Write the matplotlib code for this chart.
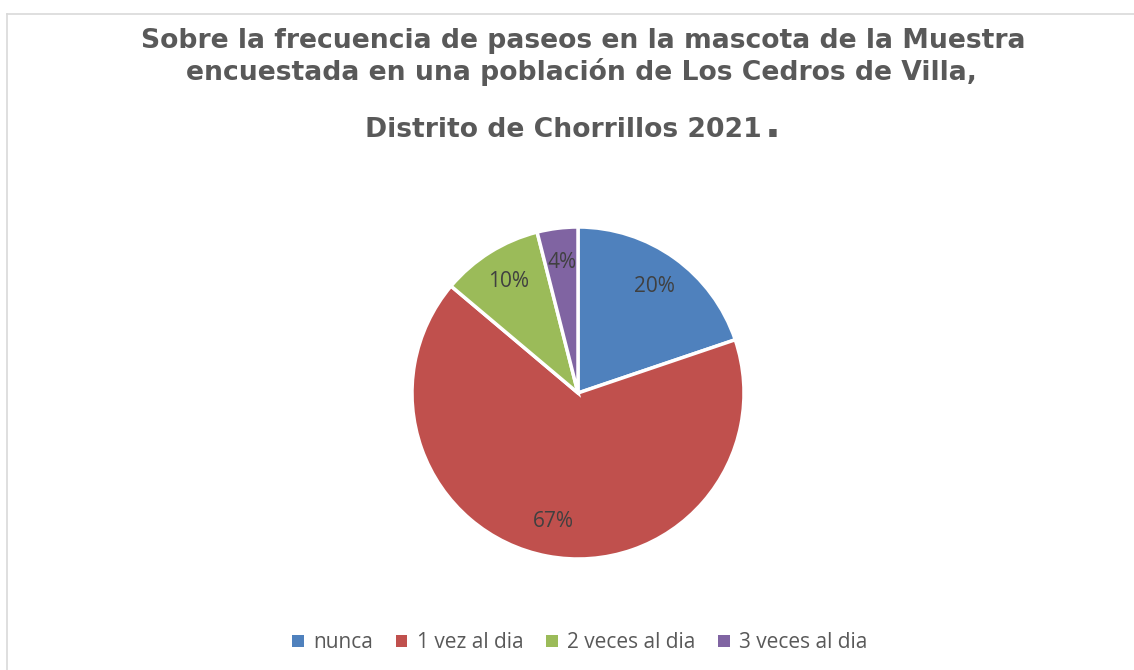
import matplotlib.pyplot as plt
from matplotlib.patches import Patch
from matplotlib.lines import Line2D

categorias = ['nunca', '1 vez al dia', '2 veces al dia', '3 veces al dia']
porcentajes = [20, 67, 10, 4]
colores = ['#4F81BD', '#C0504D', '#9BBB59', '#8064A2']

titulo = ['Sobre la frecuencia de paseos en la mascota de la Muestra',
          'encuestada en una población de Los Cedros de Villa,',
          'Distrito de Chorrillos 2021']

W, H = 1134, 670
fig = plt.figure(figsize=(W / 100, H / 100), dpi=100)

# marco gris del área del gráfico
borde = '#d9d9d9'
fig.add_artist(Line2D([7 / W, 1], [1 - 14 / H, 1 - 14 / H], color=borde, lw=1.2))
fig.add_artist(Line2D([7 / W, 7 / W], [1 - 14 / H, 0], color=borde, lw=1.2))

# título en tres líneas
estilo = dict(fontsize=19.2, fontweight='bold', color='#595959', family='DejaVu Sans')
fig.text(583 / W, 1 - 47.5 / H, titulo[0], ha='center', va='baseline', **estilo)
fig.text(581 / W, 1 - 80.5 / H, titulo[1], ha='center', va='baseline', **estilo)
fig.text(762 / W, 1 - 137 / H, titulo[2], ha='right', va='baseline', **estilo)
fig.text(765 / W, 1 - 137 / H, '.', ha='left', va='baseline',
         fontsize=30, fontweight='bold', color='#595959', family='DejaVu Sans')

# pastel
cx, cy, r = 578, 393, 166
ax = fig.add_axes([(cx - r) / W, (H - cy - r) / H, 2 * r / W, 2 * r / H])
wedges, textos = ax.pie(
    porcentajes, colors=colores, startangle=90, counterclock=False,
    labels=[f'{p}%' for p in porcentajes], labeldistance=0.79,
    wedgeprops=dict(edgecolor='white', linewidth=2.5),
    textprops=dict(fontsize=15, color='#404040', family='Open Sans'))
for t in textos:
    t.set_ha('center')
    t.set_va('center')
ax.set_xlim(-1, 1)
ax.set_ylim(-1, 1)

# leyenda inferior
handles = [Patch(facecolor=c, edgecolor='none') for c in colores]
fig.legend(handles, categorias, loc='center', bbox_to_anchor=(580 / W, 1 - 643 / H),
           ncol=4, frameon=False, handlelength=0.55, handleheight=0.55,
           handletextpad=0.45, columnspacing=1.1,
           prop=dict(family='Open Sans', size=15), labelcolor='#595959')

fig.savefig('out.png', dpi=100)
